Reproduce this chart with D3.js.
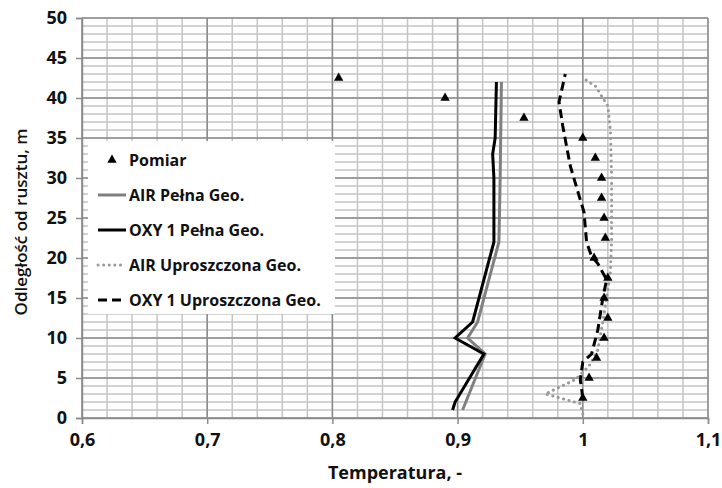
<html>
<head>
	<script src="https://d3js.org/d3.v7.min.js"></script>
	<style>
		body { margin: 0; background: #fff; }
		text { font-family: "Open Sans", sans-serif; fill: #111; }
	</style>
</head>
<body>
	<div id="chart"></div>
	<script type="text/javascript">

		// heights of the measurement points, m
		var pomiarH = [2.5, 5, 7.5, 10, 12.5, 15, 17.5, 20, 22.5, 25, 27.5, 30, 32.5, 35, 37.5, 40, 42.5];
		var pomiarT = [1.0, 1.005, 1.011, 1.017, 1.02, 1.017, 1.02, 1.009, 1.018, 1.017, 1.015, 1.015, 1.01, 1.0, 0.953, 0.89, 0.805];

		var airPelnaH = [1, 8, 10, 12, 22, 30, 42];
		var airPelnaT = [0.904, 0.922, 0.908, 0.916, 0.933, 0.934, 0.935];

		var oxyPelnaH = [1, 2, 8, 10, 12, 22, 30, 33, 35, 42];
		var oxyPelnaT = [0.896, 0.898, 0.921, 0.898, 0.912, 0.929, 0.929, 0.928, 0.930, 0.931];

		var airUprH = [0.5, 1.8, 3, 4.8, 6.5, 8.5, 12, 15, 18, 22, 30, 36, 39, 41.5, 42.5];
		var airUprT = [1.0, 0.998, 0.97, 0.994, 1.005, 1.012, 1.016, 1.019, 1.022, 1.023, 1.023, 1.022, 1.02, 1.01, 1.0];

		var oxyUprH = [2.5, 4.8, 7, 8, 11, 15, 17.3, 19.3, 20.2, 22, 25.7, 27.8, 31.5, 36.5, 39.5, 43];
		var oxyUprT = [1.0, 0.998, 1.0, 1.007, 1.012, 1.016, 1.019, 1.012, 1.007, 1.003, 1.001, 0.997, 0.99, 0.984, 0.981, 0.986];

		var xTicks = [0.6, 0.7, 0.8, 0.9, 1.0, 1.1];
		var xTickLabels = ["0,6", "0,7", "0,8", "0,9", "1", "1,1"];
		var yTicks = [0, 5, 10, 15, 20, 25, 30, 35, 40, 45, 50];

		var legendNames = ["Pomiar", "AIR Pełna Geo.", "OXY 1 Pełna Geo.", "AIR Uproszczona Geo.", "OXY 1 Uproszczona Geo."];

		var svg = d3.select('#chart')
			.append('svg')
				.attr('width', 722)
				.attr('height', 488);

		var x = d3.scaleLinear().domain([0.6, 1.1]).range([82, 708]);
		var y = d3.scaleLinear().domain([0, 50]).range([418, 18]);

		// grid
		var grid = svg.append('g');
		grid.selectAll('.vmin')
			.data(d3.range(0.6, 1.1001, 0.02))
			.enter().append('line')
				.attr('x1', d => x(d)).attr('x2', d => x(d))
				.attr('y1', y(0)).attr('y2', y(50))
				.attr('stroke', '#c4c4c4').attr('stroke-width', 1.5);
		grid.selectAll('.hmin')
			.data(d3.range(0, 51, 1))
			.enter().append('line')
				.attr('x1', x(0.6)).attr('x2', x(1.1))
				.attr('y1', d => y(d)).attr('y2', d => y(d))
				.attr('stroke', '#c4c4c4').attr('stroke-width', 1.5);
		grid.selectAll('.vmaj')
			.data(xTicks)
			.enter().append('line')
				.attr('x1', d => x(d)).attr('x2', d => x(d))
				.attr('y1', y(0)).attr('y2', y(50))
				.attr('stroke', '#8c8c8c').attr('stroke-width', 1.5);
		grid.selectAll('.hmaj')
			.data(yTicks)
			.enter().append('line')
				.attr('x1', x(0.6)).attr('x2', x(1.1))
				.attr('y1', d => y(d)).attr('y2', d => y(d))
				.attr('stroke', '#8c8c8c').attr('stroke-width', 1.5);

		// axes
		var xAxis = svg.append('g')
			.attr('transform', 'translate(0,' + y(0) + ')')
			.call(d3.axisBottom(x).tickValues(xTicks).tickSize(6).tickPadding(9)
				.tickFormat((d, i) => xTickLabels[i]));
		var yAxis = svg.append('g')
			.attr('transform', 'translate(' + x(0.6) + ',0)')
			.call(d3.axisLeft(y).tickValues(yTicks).tickSize(6).tickPadding(9));
		[xAxis, yAxis].forEach(a => {
			a.select('.domain').attr('stroke', '#8c8c8c').attr('stroke-width', 1.5);
			a.selectAll('.tick line').attr('stroke', '#8c8c8c').attr('stroke-width', 1.5);
			a.selectAll('.tick text')
				.style('font-family', '"Open Sans", sans-serif')
				.style('font-size', '18px').style('font-weight', 700).attr('fill', '#111');
		});

		svg.append('text')
			.attr('x', 395).attr('y', 479)
			.attr('text-anchor', 'middle')
			.style('font-size', '18px').style('font-weight', 700)
			.text('Temperatura, -');

		svg.append('text')
			.attr('transform', 'translate(27,222) rotate(-90)')
			.attr('text-anchor', 'middle')
			.style('font-size', '17px').style('font-weight', 600)
			.text('Odległość od rusztu, m');

		// series
		var line = d3.line().x(d => x(d[0])).y(d => y(d[1]));
		var series = [
			{t: airPelnaT, h: airPelnaH, color: '#808080', dash: null, width: 3},
			{t: oxyPelnaT, h: oxyPelnaH, color: '#000', dash: null, width: 3},
			{t: airUprT, h: airUprH, color: '#9a9a9a', dash: '0.1,5.5', width: 3},
			{t: oxyUprT, h: oxyUprH, color: '#000', dash: '9,5', width: 3}
		];
		series.forEach(s => {
			svg.append('path')
				.datum(s.t.map((v, i) => [v, s.h[i]]))
				.attr('d', line)
				.attr('fill', 'none')
				.attr('stroke', s.color)
				.attr('stroke-width', s.width)
				.attr('stroke-linecap', s.dash && s.dash[0] === '0' ? 'round' : 'butt')
				.attr('stroke-dasharray', s.dash);
		});

		var tri = d3.symbol().type(d3.symbolTriangle).size(38);
		svg.selectAll('.pomiar')
			.data(pomiarT.map((v, i) => [v, pomiarH[i]]))
			.enter().append('path')
				.attr('d', tri)
				.attr('transform', d => 'translate(' + x(d[0]) + ',' + y(d[1]) + ')')
				.attr('fill', '#000');

		// legend
		var legend = svg.append('g');
		legend.append('rect')
			.attr('x', 88).attr('y', 141)
			.attr('width', 247).attr('height', 173)
			.attr('fill', '#fff');
		legendNames.forEach((name, i) => {
			var ly = 160 + i * 35;
			if (i === 0) {
				legend.append('path')
					.attr('d', tri)
					.attr('transform', 'translate(112,' + ly + ')')
					.attr('fill', '#000');
			} else {
				var s = series[i - 1];
				legend.append('line')
					.attr('x1', 98).attr('x2', 126)
					.attr('y1', ly).attr('y2', ly)
					.attr('stroke', s.color)
					.attr('stroke-width', s.width)
					.attr('stroke-linecap', s.dash && s.dash[0] === '0' ? 'round' : 'butt')
					.attr('stroke-dasharray', s.dash);
			}
			legend.append('text')
				.attr('x', 129).attr('y', ly + 6)
				.style('font-size', '16px').style('font-weight', 700)
				.text(name);
		});
	</script>
</body>
</html>
